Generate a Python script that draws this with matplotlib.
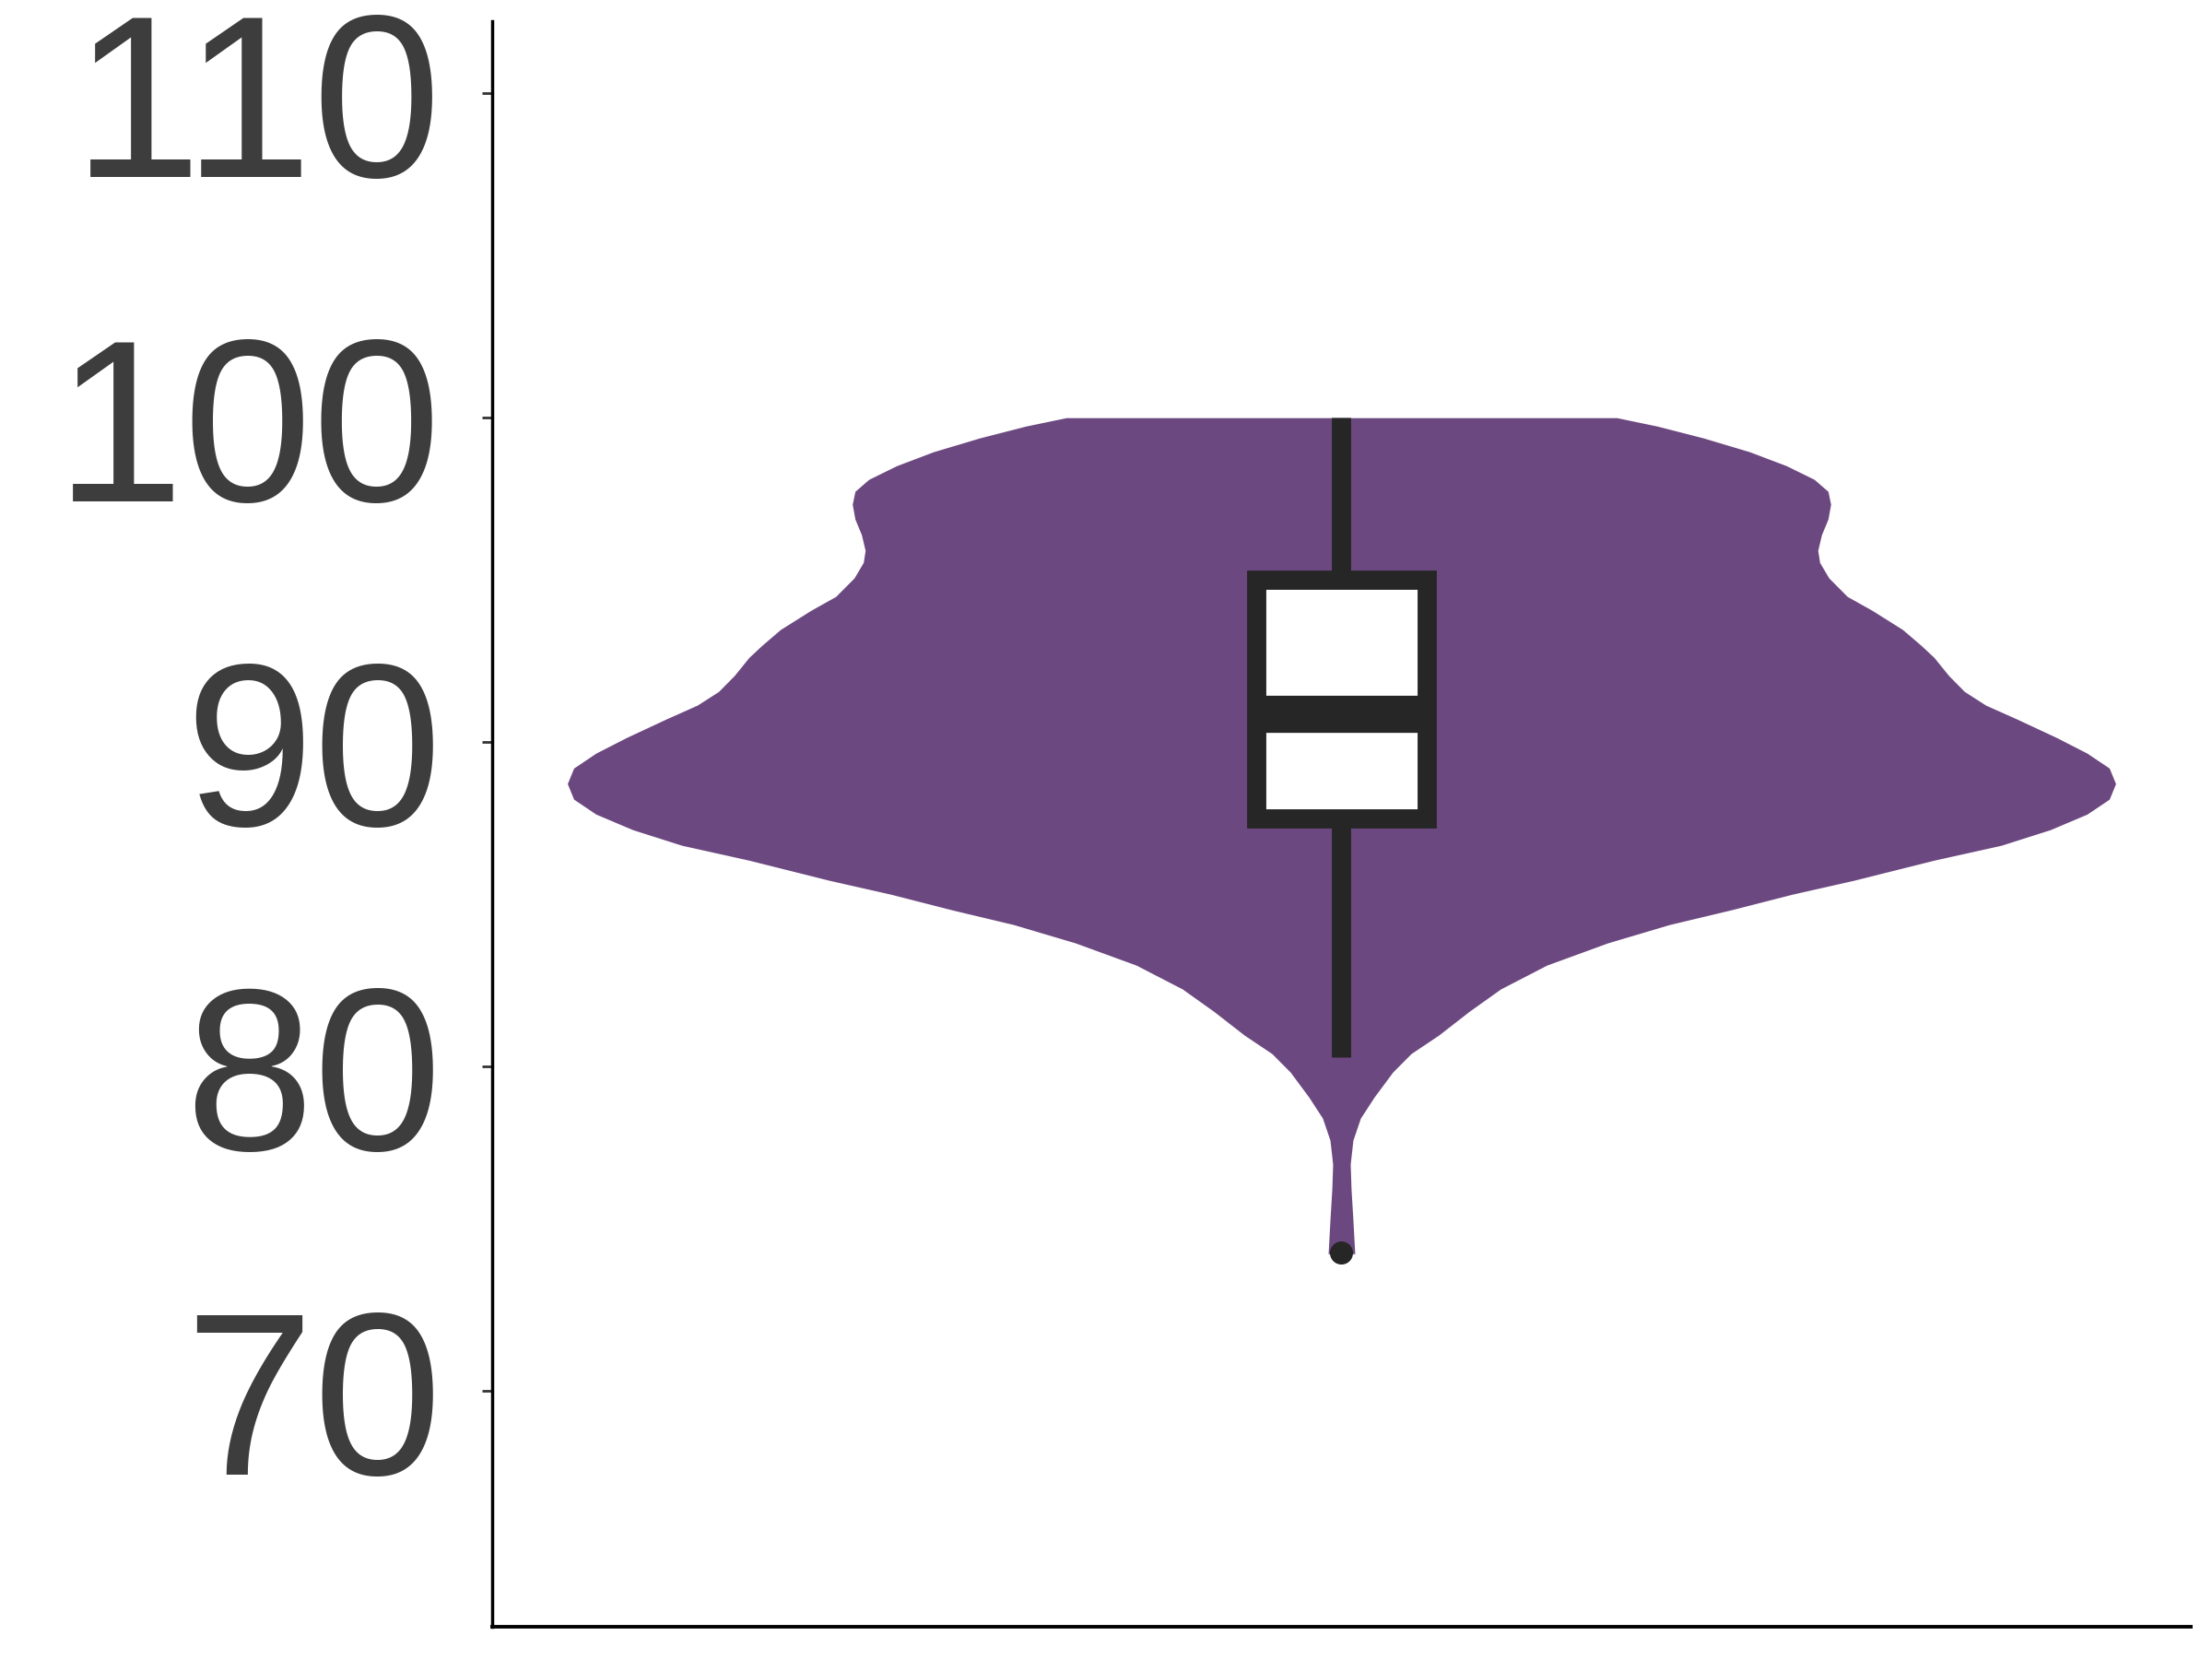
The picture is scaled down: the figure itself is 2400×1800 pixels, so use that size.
import numpy as np
import matplotlib.pyplot as plt
from matplotlib.patches import Rectangle

# perfil do violino: valor (eixo y) e meia-largura
perfil_y = [100.0, 99.74, 99.375, 98.95, 98.52, 98.10, 97.73, 97.33, 96.875, 96.39,
            95.91, 95.54, 95.06, 94.49, 94.06, 93.47, 92.98, 92.61, 92.05, 91.56,
            91.14, 90.71, 90.14, 89.66, 89.20, 88.72, 88.24, 87.78, 87.30, 86.82,
            86.36, 85.74, 85.31, 84.83, 84.375, 83.81, 83.125, 82.39, 81.70, 80.97,
            80.40, 79.83, 79.06, 78.41, 77.73, 76.99, 76.22, 75.28, 74.23]
perfil_w = [0.1945, 0.2231, 0.2557, 0.2883, 0.3143, 0.3339, 0.3437, 0.3456, 0.3437, 0.3391,
            0.3365, 0.3378, 0.3443, 0.3573, 0.3749, 0.3964, 0.4095, 0.4186, 0.4290, 0.4401,
            0.4551, 0.4772, 0.5052, 0.5267, 0.5424, 0.5469, 0.5424, 0.5267, 0.5007, 0.4661,
            0.4186, 0.3619, 0.3183, 0.2753, 0.2316, 0.1880, 0.1450, 0.1124, 0.0902, 0.0687,
            0.0492, 0.0362, 0.0231, 0.0134, 0.0081, 0.0062, 0.0068, 0.0081, 0.0094]

# estatísticas do boxplot
q1, mediana, q3 = 87.64, 90.85, 95.0
bigode_inf, bigode_sup = 80.3, 100.0
outliers = [74.26]

yticks = [70, 80, 90, 100, 110]

roxo = '#6C4880'
escuro = '#262626'

plt.rcParams['font.family'] = ['Liberation Sans', 'DejaVu Sans']

fig = plt.figure(figsize=(24, 18), dpi=100)
ax = fig.add_axes([0.2225, 0.0194, 0.7679, 0.9678])

pos = 1.0
py = np.array(perfil_y)
pw = np.array(perfil_w)
ax.fill_betweenx(py, pos - pw, pos + pw, color=roxo, linewidth=0)

# boxplot
larg = 0.06
ax.plot([pos, pos], [q3, bigode_sup], color=escuro, lw=15, solid_capstyle='butt', zorder=3)
ax.plot([pos, pos], [bigode_inf, q1], color=escuro, lw=15, solid_capstyle='butt', zorder=3)
ax.add_patch(Rectangle((pos - larg, q1), 2 * larg, q3 - q1, facecolor='white',
                       edgecolor=escuro, lw=15, joinstyle='miter', zorder=4))
ax.plot([pos - larg, pos + larg], [mediana, mediana], color=escuro, lw=29,
        solid_capstyle='butt', zorder=5)
ax.plot([pos] * len(outliers), outliers, 'o', color=escuro, ms=17, zorder=6)

ax.set_xlim(0.4, 1.6)
ax.set_ylim(62.73, 112.22)
ax.set_yticks(yticks)
ax.set_xticks([])

for s in ['top', 'right']:
    ax.spines[s].set_visible(False)
ax.spines['left'].set_linewidth(2.5)
ax.spines['bottom'].set_linewidth(2.8)

ax.tick_params(axis='y', length=8, width=2, color='#333333', pad=31,
               labelsize=181, labelcolor='#3D3D3D')

fig.savefig('out.png', dpi=100)
